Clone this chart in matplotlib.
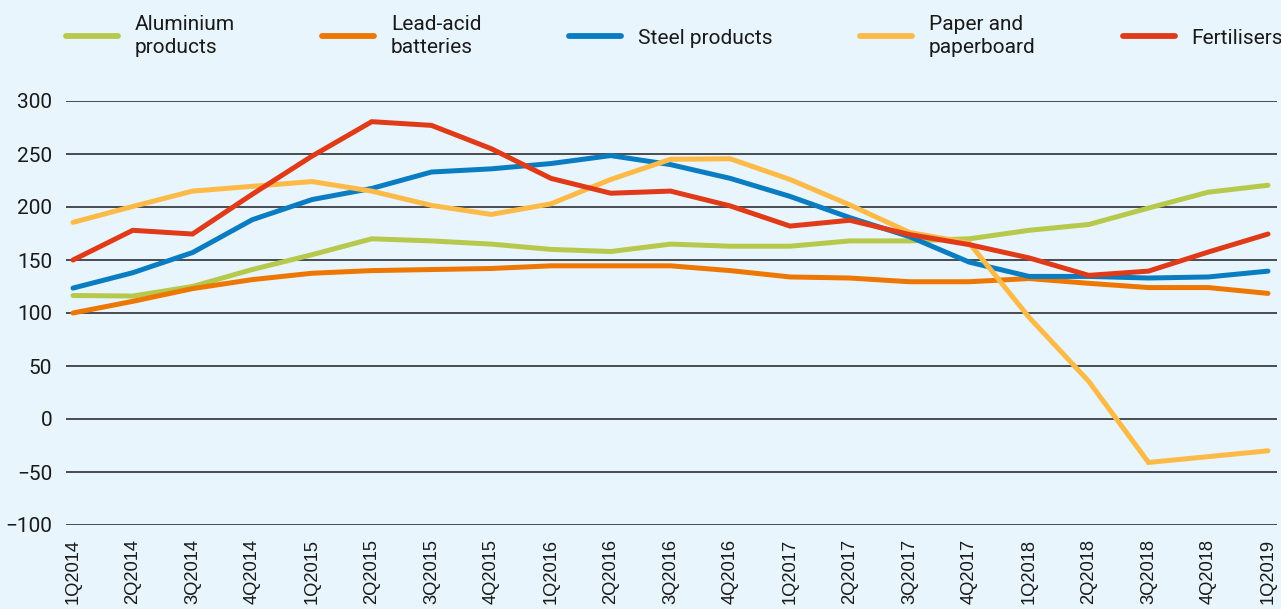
import matplotlib
matplotlib.use("Agg")
import matplotlib.pyplot as plt

quarters = ["1Q2014", "2Q2014", "3Q2014", "4Q2014", "1Q2015", "2Q2015", "3Q2015", "4Q2015",
            "1Q2016", "2Q2016", "3Q2016", "4Q2016", "1Q2017", "2Q2017", "3Q2017", "4Q2017",
            "1Q2018", "2Q2018", "3Q2018", "4Q2018", "1Q2019"]

aluminium = [116.5, 116, 125, 141, 155, 170, 168, 165, 160, 158, 165, 163, 163, 168, 168, 170, 178, 183.5, 199, 214, 220.5]
lead_acid = [100, 111, 123, 131.5, 137.5, 140, 141, 142, 144.5, 144.5, 144.5, 140, 134, 133, 129.5, 129.5, 132.5, 128, 124, 124, 118.5]
steel = [123.5, 138, 157, 188, 207, 217.5, 233, 236, 241, 248.5, 240, 227, 210, 190, 172, 148, 134.5, 134.5, 133, 134, 139.5]
paper = [185.5, 200.5, 215, 219.5, 224, 215, 201.5, 193, 203, 226, 245, 245.5, 226, 202, 176, 166, 96, 35.5, -41, -35.5, -30]
fertilisers = [150, 178, 174.5, 212, 248, 280.5, 277, 255, 227, 213, 215, 201, 182, 187.5, 174, 164.5, 152, 135.5, 139.5, 157.5, 174.5]

series = [
    ("Aluminium\nproducts", aluminium, "#b6c94c"),
    ("Lead-acid\nbatteries", lead_acid, "#ee7703"),
    ("Steel products", steel, "#0a7dc2"),
    ("Paper and\npaperboard", paper, "#fdba47"),
    ("Fertilisers", fertilisers, "#e03a18"),
]

bg = "#e8f5fc"
W, H = 1281, 609
fig = plt.figure(figsize=(W / 100, H / 100), dpi=100, facecolor=bg)
ax = fig.add_axes([66 / W, 1 - 525 / H, (1277 - 66) / W, (525 - 101) / H], facecolor=bg)

x = list(range(len(quarters)))
for label, vals, col in series:
    ax.plot(x, vals, color=col, lw=3.6, label=label, solid_capstyle="round", solid_joinstyle="miter")

ax.set_ylim(-100, 300)
ax.set_xlim(-7 / 59.75, 20 + 9 / 59.75)
ax.set_yticks(range(-100, 301, 50))
ax.yaxis.grid(True, color="#3a3f44", lw=1.3)
ax.set_axisbelow(True)
for s in ax.spines.values():
    s.set_visible(False)
ax.tick_params(axis="both", length=0)
ax.tick_params(axis="y", pad=10, labelsize=15, labelcolor="#1a1a1a")
for t in ax.get_yticklabels():
    t.set_family("Roboto")
ax.set_xticks(x)
ax.set_xticklabels(quarters, rotation=90, fontsize=13.2, family="Liberation Sans", va="top", color="#1a1a1a")
ax.tick_params(axis="x", pad=10)

leg = fig.legend(loc="center left", bbox_to_anchor=(66 / W, 1 - 36 / H), ncol=5, frameon=False,
                 prop={"family": "Roboto", "size": 15}, handlelength=2.5, handletextpad=0.8,
                 columnspacing=4.2, borderpad=0, borderaxespad=0, labelspacing=0.2)
for t in leg.get_texts():
    t.set_color("#1a1a1a")
    t.set_linespacing(1.25)
for h in leg.get_lines():
    h.set_linewidth(4.2)
    h.set_solid_capstyle("round")

fig.savefig("out.png", dpi=100, facecolor=bg)
